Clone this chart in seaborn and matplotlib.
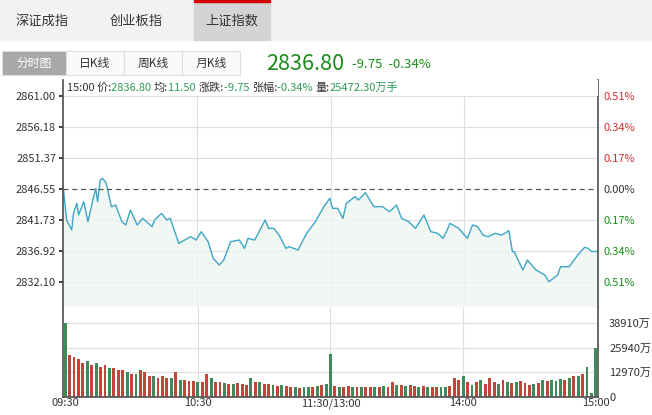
import numpy as np
import pandas as pd
import seaborn as sns
import matplotlib.pyplot as plt
from matplotlib.patches import Rectangle

sns.set_theme(style="white")
plt.rcParams['font.family'] = ['Noto Sans CJK SC', 'DejaVu Sans']

minutes = [0,1.6,3.9,4.7,6.2,7.0,9.3,11.2,13.2,14.7,
           15.5,16.7,17.8,19.4,21.7,23.6,26.4,28.2,30.2,33.3,
           35.7,40.0,41.1,44.2,46.5,48.1,51.9,57.3,59.7,62.0,
           65.1,67.4,70.1,72.1,75.2,79.1,81.4,83.0,86.0,90.7,
           92.2,94.6,96.9,100.0,101.5,105.4,109.3,113.2,117.0,119.7,
           120.9,123.2,125.6,127.1,131.0,132.5,135.6,139.5,143.3,146.5,
           149.6,151.9,155.0,158.1,161.9,165.0,168.1,170.5,172.0,173.6,
           177.5,181.4,183.7,186.0,188.4,190.7,193.8,196.9,200.0,201.6,
           202.4,206.3,208.3,212.2,216.1,218.0,221.9,223.2,227.1,230.9,
           234.0,235.6,237.1,240]
prices = [2847.17,2841.71,2840.15,2842.75,2844.31,2842.49,2844.57,2841.45,2844.57,2846.65,
          2844.57,2847.95,2848.21,2847.43,2843.79,2844.05,2841.45,2840.93,2843.27,2840.93,
          2841.97,2840.67,2841.71,2842.75,2841.71,2841.97,2838.07,2839.11,2838.59,2839.89,
          2838.33,2835.73,2834.69,2835.47,2838.33,2838.59,2837.29,2838.85,2838.59,2841.71,
          2840.41,2840.41,2839.37,2837.29,2837.55,2837.03,2839.63,2841.45,2843.79,2845.09,
          2843.53,2843.53,2841.97,2844.31,2845.35,2844.83,2845.97,2843.79,2843.79,2843.01,
          2844.05,2841.97,2841.45,2840.41,2842.49,2839.89,2839.63,2838.85,2839.89,2841.19,
          2840.41,2838.85,2840.93,2840.67,2839.37,2839.11,2839.63,2839.37,2840.05,2836.77,
          2836.77,2833.91,2835.47,2833.91,2833.13,2832.09,2833.13,2834.43,2834.43,2836.25,
          2837.45,2837.29,2836.80,2836.80]
n = min(len(minutes), len(prices))
minutes, prices = minutes[:n], prices[:n]

volumes = [38.9,22,21,20,18,19,17,18,16,17,
           15,15,14,14,13,12,12,14,13,11,
           11,10,11,10,10,13,9,9,8.5,8.5,
           8,8,12,10,8,8,7.5,7,7,7.5,
           7,6.5,10,8,8,7,7,6.5,6,6.5,
           6,5.5,5,4.5,5,5,5,6,6.5,7,
           22.5,
           6,5.5,5,6,5.5,5,5,5,5,5.5,
           5,6,5.5,8,6.5,6.5,6,6.5,6,5.5,
           6,5.5,5,5.5,5.5,5,6,10,9,11,
           8,6.5,8,9,7,10,8,7,9,8,
           7.5,8,8.5,7.5,6.5,7,7.5,9,8.5,9,
           8.5,9.5,9,10,11,11,12,16,2,26]
vol_colors = ("grrrrgrgrrgrrrgrgrrrgrrrgrgrrrgrrgrrgrgrrrgrgrrgrgrrgrggrgrg"
              "grgrrgrgrrgrgrrgrgrrgrgrrggrrrgrgrgrrrgrgrgrrrgrgrgggrgrgrgg")
vol_min = [2 * i for i in range(len(volumes))]

price_ticks = [2861.00, 2856.18, 2851.37, 2846.55, 2841.73, 2836.92, 2832.10]
pct_labels = ["0.51%", "0.34%", "0.17%", "0.00%", "0.17%", "0.34%", "0.51%"]
vol_ticks = [0, 12970, 25940, 38910]
vol_labels = ["0", "12970万", "25940万", "38910万"]
time_ticks = [0, 60, 120, 180, 240]
time_labels = ["09:30", "10:30", "11:30/13:00", "14:00", "15:00"]
tabs = ["深证成指", "创业板指", "上证指数"]
buttons = ["分时图", "日K线", "周K线", "月K线"]

W, H = 652, 415
fig = plt.figure(figsize=(W/100, H/100), dpi=100)
def fx(x): return x / W
def fy(y): return 1 - y / H

# top tab bar
fig.patches.append(Rectangle((fx(0), fy(40)), 1, 40/H, transform=fig.transFigure, color="#f2f2f2", zorder=0))
fig.patches.append(Rectangle((fx(194), fy(40)), 76/W, 40/H, transform=fig.transFigure, color="#d4d4d4", zorder=1))
fig.patches.append(Rectangle((fx(194), fy(2)), 76/W, 2/H, transform=fig.transFigure, color="#d40000", zorder=2))
for x, t in zip([42, 136, 232], tabs):
    fig.text(fx(x), fy(21), t, ha="center", va="center", fontsize=9.5, color="#333333")
# buttons
bx = [2, 66, 124, 182, 240]
for i, t in enumerate(buttons):
    fc = "#a8a8a8" if i == 0 else "#fafafa"
    fig.patches.append(Rectangle((fx(bx[i]), fy(75)), (bx[i+1]-bx[i])/W, 24/H, transform=fig.transFigure,
                                 facecolor=fc, edgecolor="#dddddd", lw=0.8, zorder=1))
    fig.text(fx((bx[i]+bx[i+1])/2), fy(63), t, ha="center", va="center", fontsize=8.5,
             color="white" if i == 0 else "#333333")
fig.text(fx(266), fy(64), "2836.80", ha="left", va="center", fontsize=15.5, color="#1a8c1a")
fig.text(fx(352), fy(64), "-9.75  -0.34%", ha="left", va="center", fontsize=9.5, color="#1a8c1a")

# price axes
ax = fig.add_axes([fx(63), fy(307), (598-63)/W, (307-80)/H])
ax.set_xlim(0, 240)
ax.set_ylim(2828.14, 2863.55)
df = pd.DataFrame({"minute": minutes, "price": prices})
ax.fill_between(df["minute"], df["price"], 2820, color="#eef6f1", alpha=0.8)
sns.lineplot(data=df, x="minute", y="price", ax=ax, color="#3fa6c8", lw=1.0)
ax.axhline(2846.55, color="#555555", ls=(0, (4, 3)), lw=0.9)
for t in price_ticks:
    if t != 2846.55:
        ax.axhline(t, color="#dddddd", lw=0.8, zorder=0)
for t in time_ticks[1:-1]:
    ax.axvline(t, color="#dddddd", lw=0.8, zorder=0)
ax.set_yticks(price_ticks)
ax.set_yticklabels([f"{v:.2f}" for v in price_ticks], fontsize=8, color="#333333")
ax.tick_params(axis="y", length=3, left=True, pad=2)
ax.set_xticks([])
ax.set_xlabel(""); ax.set_ylabel("")
for s in ["top", "bottom"]:
    ax.spines[s].set_visible(False)
for s in ["left", "right"]:
    ax.spines[s].set_color("#555555")
ax2 = ax.twinx()
ax2.set_ylim(ax.get_ylim())
ax2.set_yticks(price_ticks)
ax2.set_yticklabels(pct_labels, fontsize=8)
for lab, c in zip(ax2.get_yticklabels(), ["#d03030"]*3 + ["#333333"] + ["#1a8c1a"]*3):
    lab.set_color(c)
ax2.tick_params(axis="y", length=0, pad=4)
for s in ax2.spines.values():
    s.set_visible(False)
fig.patches.append(Rectangle((fx(63.5), fy(96)), (597-63)/W, 16/H, transform=fig.transFigure,
                             facecolor="white", edgecolor="none", zorder=5))
hdr = [("15:00 价:", "#333333"), ("2836.80 ", "#2e9a5a"), ("均:", "#333333"), ("11.50 ", "#2e9a5a"),
       ("涨跌:", "#333333"), ("-9.75 ", "#2e9a5a"), ("张幅:", "#333333"), ("-0.34% ", "#2e9a5a"),
       ("量:", "#333333"), ("25472.30万手", "#2e9a5a")]
xs = 67
r = fig.canvas.get_renderer()
for s, c in hdr:
    t = fig.text(fx(xs), fy(88), s, fontsize=8, va="center", color=c, zorder=6)
    xs += t.get_window_extent(renderer=r).width

# volume axes
axv = fig.add_axes([fx(63), fy(397), (598-63)/W, (397-307)/H])
axv.set_xlim(-1, 241)
axv.set_ylim(0, 47330)
cmap = {"r": "#c0453a", "g": "#3f8a5a"}
cols = [cmap[vol_colors[i % len(vol_colors)]] for i in range(len(volumes))]
cols[0] = cmap["g"]; cols[60] = cmap["g"]; cols[-1] = cmap["g"]
axv.bar(vol_min, [v * 1000 for v in volumes], width=1.3, color=cols, linewidth=0)
for t in vol_ticks[1:]:
    axv.axhline(t, color="#dddddd", lw=0.8, zorder=0)
for t in time_ticks[1:-1]:
    axv.axvline(t, color="#dddddd", lw=0.8, zorder=0)
axv.set_yticks([])
axv.set_xticks(time_ticks)
axv.set_xticklabels(time_labels, fontsize=8, color="#333333")
axv.tick_params(axis="x", length=0, pad=1)
axv.spines["top"].set_visible(False)
for s in ["left", "right", "bottom"]:
    axv.spines[s].set_color("#555555")
axv3 = axv.twinx()
axv3.set_ylim(axv.get_ylim())
axv3.set_yticks(vol_ticks)
axv3.set_yticklabels(vol_labels, fontsize=8, color="#333333")
axv3.tick_params(axis="y", length=0, pad=8)
for s in axv3.spines.values():
    s.set_visible(False)

fig.savefig("out.png", dpi=100)
